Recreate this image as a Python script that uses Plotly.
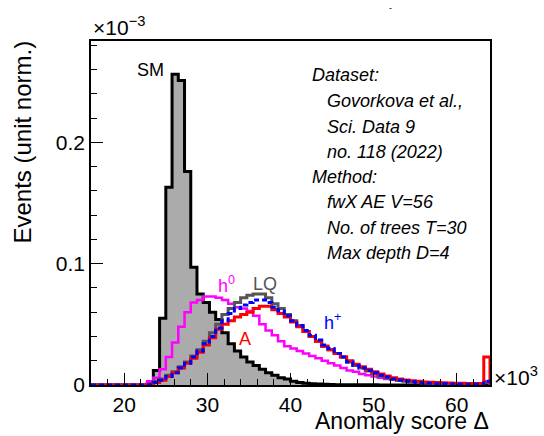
import numpy as np
import plotly.graph_objects as go

# Binning: 64 bins from 16 to 64 (x in units of 10^3)
edges = np.linspace(16, 64, 65)

sm = [0]*9 + [0.001, 0.012, 0.055, 0.163, 0.256, 0.251, 0.176, 0.097, 0.075, 0.068,
              0.060, 0.054, 0.043, 0.034, 0.028, 0.023, 0.019, 0.016, 0.013, 0.010,
              0.008, 0.006, 0.005, 0.003, 0.002, 0.0015, 0.001, 0.0008, 0.0006, 0.0005] + [0.0003]*7 + [0.0]*18

h0 = [0]*8 + [0.0005, 0.003, 0.006, 0.013, 0.023, 0.035, 0.048, 0.060, 0.068, 0.070,
              0.073, 0.073, 0.072, 0.070, 0.067, 0.064, 0.063, 0.061, 0.057, 0.050,
              0.045, 0.041, 0.036, 0.032, 0.030, 0.028, 0.026, 0.024, 0.022, 0.020,
              0.018, 0.016, 0.014, 0.012, 0.011, 0.009, 0.008, 0.007, 0.006, 0.005,
              0.0045, 0.004, 0.0035, 0.003, 0.0025, 0.002, 0.002, 0.0015, 0.0015, 0.0012,
              0.0012, 0.001, 0.001, 0.001, 0.001, 0.003]

lq = [0]*10 + [0.003, 0.005, 0.008, 0.011, 0.015, 0.019, 0.024, 0.029, 0.036, 0.043,
               0.050, 0.058, 0.063, 0.068, 0.072, 0.074, 0.075, 0.075, 0.072, 0.067,
               0.063, 0.058, 0.053, 0.049, 0.044, 0.040, 0.036, 0.032, 0.029, 0.026,
               0.023, 0.019, 0.016, 0.014, 0.0115, 0.0095, 0.0075, 0.006, 0.0048, 0.0038,
               0.003, 0.0024, 0.002, 0.0016, 0.0013, 0.001, 0.0009, 0.0008, 0.0007, 0.0006,
               0.0006, 0.0005, 0.0005, 0.002]

a_sig = [0]*10 + [0.002, 0.004, 0.007, 0.010, 0.014, 0.018, 0.022, 0.027, 0.033, 0.039,
                  0.046, 0.050, 0.053, 0.056, 0.058, 0.060, 0.063, 0.065, 0.065, 0.062,
                  0.059, 0.056, 0.052, 0.048, 0.044, 0.040, 0.036, 0.032, 0.029, 0.026,
                  0.023, 0.020, 0.017, 0.015, 0.013, 0.011, 0.009, 0.0075, 0.006, 0.005,
                  0.0042, 0.0035, 0.003, 0.0025, 0.0022, 0.002, 0.0018, 0.0016, 0.0015, 0.0014,
                  0.0013, 0.0012, 0.0012, 0.023]

hp = [0]*10 + [0.002, 0.004, 0.007, 0.010, 0.014, 0.018, 0.023, 0.028, 0.034, 0.040,
               0.047, 0.053, 0.059, 0.063, 0.066, 0.068, 0.070, 0.070, 0.068, 0.064,
               0.061, 0.057, 0.053, 0.049, 0.045, 0.041, 0.037, 0.033, 0.030, 0.026,
               0.023, 0.019, 0.016, 0.014, 0.012, 0.010, 0.008, 0.0065, 0.005, 0.004,
               0.0032, 0.0026, 0.0021, 0.0017, 0.0014, 0.0011, 0.001, 0.0009, 0.0008, 0.0007,
               0.0006, 0.0006, 0.0005, 0.003]

info_lines = ["Dataset:", "Govorkova et al.,", "Sci. Data 9", "no. 118 (2022)",
              "Method:", "fwX AE V=56", "No. of trees T=30", "Max depth D=4"]
info_indent = [False, True, True, True, False, True, True, True]

FONT = "Liberation Sans"


def step_xy(vals):
    xs = [edges[0]] + list(edges[:-1]) + [edges[-1]]
    ys = [0.0] + list(vals) + [0.0]
    return xs, ys


fig = go.Figure()

x, y = step_xy(sm)
fig.add_trace(go.Scatter(x=x, y=y, mode="lines", line=dict(shape="hv", color="black", width=3),
                         fill="tozeroy", fillcolor="#ababab", name="SM"))
x, y = step_xy(h0)
fig.add_trace(go.Scatter(x=x, y=y, mode="lines", line=dict(shape="hv", color="#ff00ff", width=2.5), name="h0"))
x, y = step_xy(lq)
fig.add_trace(go.Scatter(x=x, y=y, mode="lines", line=dict(shape="hv", color="#555555", width=3), name="LQ"))
x, y = step_xy(a_sig)
fig.add_trace(go.Scatter(x=x, y=y, mode="lines", line=dict(shape="hv", color="#ff0000", width=3), name="A"))
x, y = step_xy(hp)
fig.add_trace(go.Scatter(x=x, y=y, mode="lines", line=dict(shape="hv", color="#0000ff", width=3, dash="5px,3px"), name="h+"))

ann = []
ann.append(dict(x=23.1, y=0.2595, text="SM", font=dict(color="black", size=18)))
ann.append(dict(x=32.3, y=0.0830, text="h<sup>0</sup>", font=dict(color="#ff00ff", size=18)))
ann.append(dict(x=36.9, y=0.0835, text="LQ", font=dict(color="#555555", size=18)))
ann.append(dict(x=34.5, y=0.038, text="A", font=dict(color="#ff0000", size=18)))
ann.append(dict(x=45.1, y=0.052, text="h<sup>+</sup>", font=dict(color="#0000ff", size=18)))
for a in ann:
    a.update(xref="x", yref="y", showarrow=False, xanchor="center", yanchor="middle")
    a["font"]["family"] = FONT

ys_px = [75, 101, 127, 152, 177, 202, 227, 252]
for txt, ind, ypx in zip(info_lines, info_indent, ys_px):
    ann.append(dict(xref="x", yref="y", x=44.1 if ind else 42.4, y=(384 - ypx) / 1210.0,
                    text="<i>%s</i>" % txt, showarrow=False, xanchor="left", yanchor="middle",
                    font=dict(family=FONT, size=18, color="black")))

ann.append(dict(xref="paper", yref="paper", x=1.0, y=-0.146, text="Anomaly score Δ",
                showarrow=False, xanchor="right", yanchor="bottom", borderpad=0,
                font=dict(family=FONT, size=23)))
ann.append(dict(xref="paper", yref="paper", x=-0.1727, y=0.705, text="Events (unit norm.)", textangle=-90,
                showarrow=False, xanchor="center", yanchor="middle", font=dict(family=FONT, size=24)))
ann.append(dict(xref="paper", yref="paper", x=0.0, y=1.045, text="×10<sup>−3</sup>",
                showarrow=False, xanchor="left", yanchor="middle", font=dict(family=FONT, size=21)))
ann.append(dict(xref="paper", yref="paper", x=1.004, y=0.026, text="×10<sup>3</sup>",
                showarrow=False, xanchor="left", yanchor="middle", font=dict(family=FONT, size=21)))
ann.append(dict(xref="paper", yref="paper", x=0.751, y=1.096, text="-",
                showarrow=False, xanchor="center", yanchor="middle", font=dict(family=FONT, size=9)))

fig.update_layout(
    width=544, height=436,
    margin=dict(l=91, r=54, t=41, b=51),
    paper_bgcolor="white", plot_bgcolor="white",
    showlegend=False,
    annotations=ann,
    font=dict(family=FONT, color="black"),
)
fig.update_xaxes(range=[16, 64], tick0=0, dtick=10, ticks="inside", ticklen=12, tickwidth=1.3,
                 tickcolor="black", minor=dict(ticks="inside", ticklen=6, dtick=2, tick0=0, tickcolor="black", tickwidth=1.3),
                 showline=True, linecolor="black", linewidth=1.5, mirror=True, showgrid=False, zeroline=False,
                 tickfont=dict(family=FONT, size=21))
fig.update_yaxes(range=[0, 0.2835], tick0=0, dtick=0.1, ticks="inside", ticklen=12, tickwidth=1.3,
                 tickcolor="black", minor=dict(ticks="inside", ticklen=6, dtick=0.02, tick0=0, tickcolor="black", tickwidth=1.3),
                 showline=True, linecolor="black", linewidth=1.5, mirror=True, showgrid=False, zeroline=False,
                 tickfont=dict(family=FONT, size=21))

fig.write_html("out.html")
